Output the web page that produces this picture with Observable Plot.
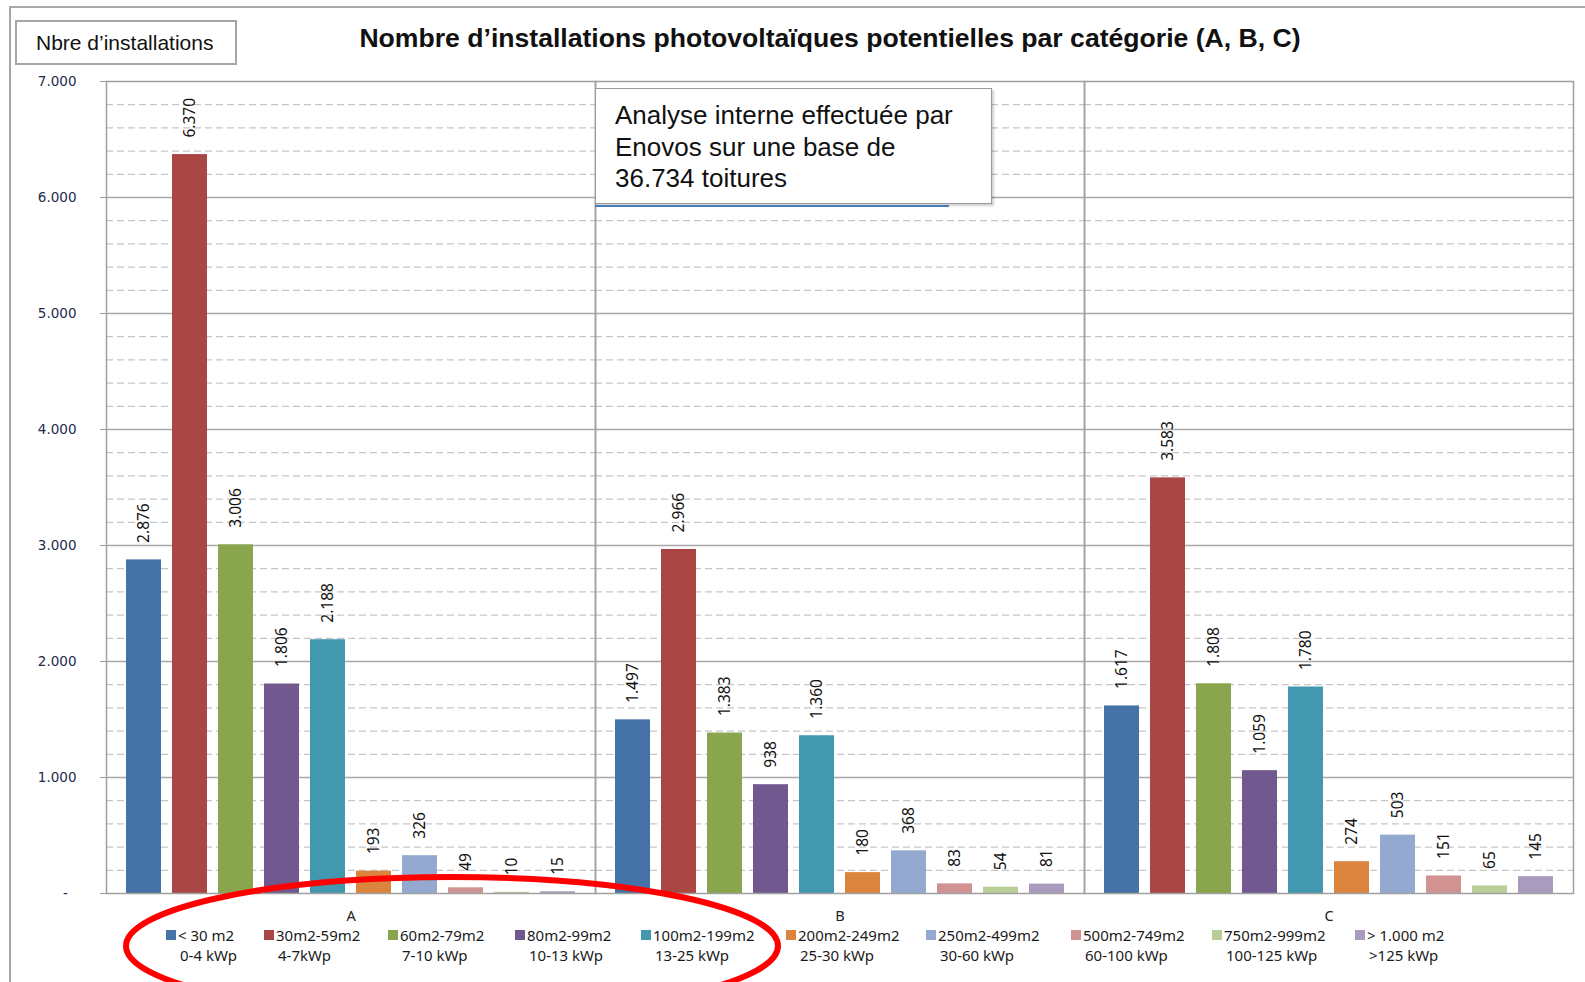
<!DOCTYPE html>
<html>
<head>
<meta charset="utf-8">
<script src="https://cdn.jsdelivr.net/npm/d3@7"></script>
<script src="https://cdn.jsdelivr.net/npm/@observablehq/plot@0.6"></script>
<style>
html, body { margin: 0; padding: 0; background: #fff; overflow: hidden; }
#page { position: relative; width: 1585px; height: 982px; overflow: hidden; background: #fff; }
#frame { position: absolute; left: 9px; top: 6px; width: 1600px; height: 1000px; border: 2px solid #a8a8a8; box-sizing: border-box; }
#ybox { position: absolute; left: 15px; top: 20px; width: 222px; height: 45px; box-sizing: border-box; border: 2px solid #a6a6a6; background: #fff;
  font-family: "Liberation Sans", Arial, sans-serif; font-size: 21px; color: #111; line-height: 41px; padding-left: 19px; white-space: nowrap; }
#title { position: absolute; left: 330px; width: 1000px; top: 23px; text-align: center; font-family: "Liberation Sans", Arial, sans-serif;
  font-weight: bold; font-size: 26.6px; line-height: 30px; color: #111; white-space: nowrap; }
#chart { position: absolute; left: 0; top: 66px; }
#note { position: absolute; left: 595px; top: 88px; width: 397px; height: 116px; box-sizing: border-box; border: 1px solid #9a9a9a; background: #fff;
  box-shadow: 2px 2px 2px rgba(0,0,0,0.18); font-family: "Liberation Sans", Arial, sans-serif; font-size: 26px; line-height: 31.5px; color: #111;
  padding: 11px 0 0 19px; white-space: nowrap; }
#noteline { position: absolute; left: 595px; top: 205px; width: 354px; height: 2px; background: #4a7ebb; }
.sw { position: absolute; width: 10px; height: 10px; top: 930px; }
.lt { position: absolute; font-family: "Noto Sans", sans-serif; font-size: 15px; line-height: 20px; color: #1a1a1a; white-space: nowrap; }
#overlay { position: absolute; left: 0; top: 0; pointer-events: none; }
</style>
</head>
<body>
<div id="page">
  <div id="frame"></div>
</div>
<script>
// ---------- data ----------
const categories = ["A", "B", "C"];
const seriesArea = ["< 30 m2", "30m2-59m2", "60m2-79m2", "80m2-99m2", "100m2-199m2",
                    "200m2-249m2", "250m2-499m2", "500m2-749m2", "750m2-999m2", "> 1.000 m2"];
const seriesPower = ["0-4 kWp", "4-7kWp", "7-10 kWp", "10-13 kWp", "13-25 kWp",
                     "25-30 kWp", "30-60 kWp", "60-100 kWp", "100-125 kWp", ">125 kWp"];
const valuesA = [2876, 6370, 3006, 1806, 2188, 193, 326, 49, 10, 15];
const valuesB = [1497, 2966, 1383, 938, 1360, 180, 368, 83, 54, 81];
const valuesC = [1617, 3583, 1808, 1059, 1780, 274, 503, 151, 65, 145];
const yTicks = [0, 1000, 2000, 3000, 4000, 5000, 6000, 7000];
const titleText = "Nombre d’installations photovoltaïques potentielles par catégorie (A, B, C)";
const yTitle = "Nbre d’installations";
const noteLines = ["Analyse interne effectuée par", "Enovos sur une base de", "36.734 toitures"];

// ---------- styles ----------
const colors = ["#4572A7", "#AA4643", "#89A54E", "#71588F", "#4198AF",
                "#DB843D", "#93A9CF", "#D19392", "#B9CD96", "#A99BBD"];
const legendLeft = [166, 264, 388, 515, 641, 786, 926, 1071, 1212, 1355];

const valuesByCat = {A: valuesA, B: valuesB, C: valuesC};
const rows = categories.flatMap(cat => seriesArea.map((s, i) => ({cat, series: s, value: valuesByCat[cat][i]})));
const fmt = d3.formatLocale({decimal: ",", thousands: ".", grouping: [3], currency: ["", ""]}).format(",d");
const minorTicks = d3.range(200, 7000, 200).filter(v => v % 1000 !== 0);
const majorInner = yTicks.filter(v => v > 0 && v < 7000);
const firstSeries = [seriesArea[0]];
const lastSeries = [seriesArea[seriesArea.length - 1]];

const page = document.getElementById("page");

const ybox = document.createElement("div");
ybox.id = "ybox"; ybox.textContent = yTitle; page.appendChild(ybox);

const title = document.createElement("div");
title.id = "title"; title.textContent = titleText; page.appendChild(title);

const chart = Plot.plot({
  width: 1585,
  height: 860,
  marginLeft: 106,
  marginRight: 12,
  marginTop: 15,
  marginBottom: 33,
  style: {fontFamily: "'Noto Sans', sans-serif", fontSize: "14px", background: "transparent", overflow: "visible"},
  fx: {domain: categories, padding: 0},
  x: {domain: seriesArea, paddingInner: 0.229, paddingOuter: 0.354, axis: null},
  y: {domain: [0, 7000]},
  color: {domain: seriesArea, range: colors},
  marks: [
    Plot.ruleY(minorTicks, {stroke: "#c6c6c6", strokeWidth: 1.2, strokeDasharray: "7,4"}),
    Plot.ruleY(majorInner, {stroke: "#a9a9a9", strokeWidth: 1.3}),
    Plot.barY(rows, {fx: "cat", x: "series", y: "value", fill: "series"}),
    Plot.text(rows, {fx: "cat", x: "series", y: "value", text: d => fmt(d.value), rotate: -90,
      textAnchor: "start", lineAnchor: "middle", dy: -17, fontSize: 15.5, fontFamily: "Noto Sans", fill: "#111"}),
    Plot.frame({stroke: "#a0a0a0", strokeWidth: 1.5}),
    Plot.axisY({ticks: yTicks, tickFormat: d => d === 0 ? "-\u00a0\u00a0" : fmt(d), tickSize: 6, tickPadding: 24,
      stroke: "#999", fill: "#1f2b4d", fontSize: 13.5, fontFamily: "DejaVu Sans", label: null}),
    Plot.axisFx({anchor: "bottom", tickSize: 0, tickPadding: 17, fontSize: 14.5, fontFamily: "Noto Sans", fill: "#222", label: null})
  ]
});
chart.id = "chart";
page.appendChild(chart);

const note = document.createElement("div");
note.id = "note"; note.innerHTML = noteLines.join("<br>"); page.appendChild(note);
const noteline = document.createElement("div");
noteline.id = "noteline"; page.appendChild(noteline);

seriesArea.forEach((s, i) => {
  const sw = document.createElement("div");
  sw.className = "sw"; sw.style.left = legendLeft[i] + "px"; sw.style.background = colors[i];
  page.appendChild(sw);
  const t1 = document.createElement("div");
  t1.className = "lt"; t1.style.left = (legendLeft[i] + 12) + "px"; t1.style.top = "925px"; t1.textContent = s;
  page.appendChild(t1);
  const t2 = document.createElement("div");
  t2.className = "lt"; t2.style.left = (legendLeft[i] + 14) + "px"; t2.style.top = "945px"; t2.textContent = seriesPower[i];
  page.appendChild(t2);
});

// red highlight ellipse drawn over the legend
const ns = "http://www.w3.org/2000/svg";
const ov = document.createElementNS(ns, "svg");
ov.setAttribute("id", "overlay"); ov.setAttribute("width", 1585); ov.setAttribute("height", 982);
const el = document.createElementNS(ns, "ellipse");
el.setAttribute("cx", 452); el.setAttribute("cy", 946); el.setAttribute("rx", 326); el.setAttribute("ry", 69);
el.setAttribute("fill", "none"); el.setAttribute("stroke", "#ff0000"); el.setAttribute("stroke-width", 6);
ov.appendChild(el);
page.appendChild(ov);
</script>
</body>
</html>
